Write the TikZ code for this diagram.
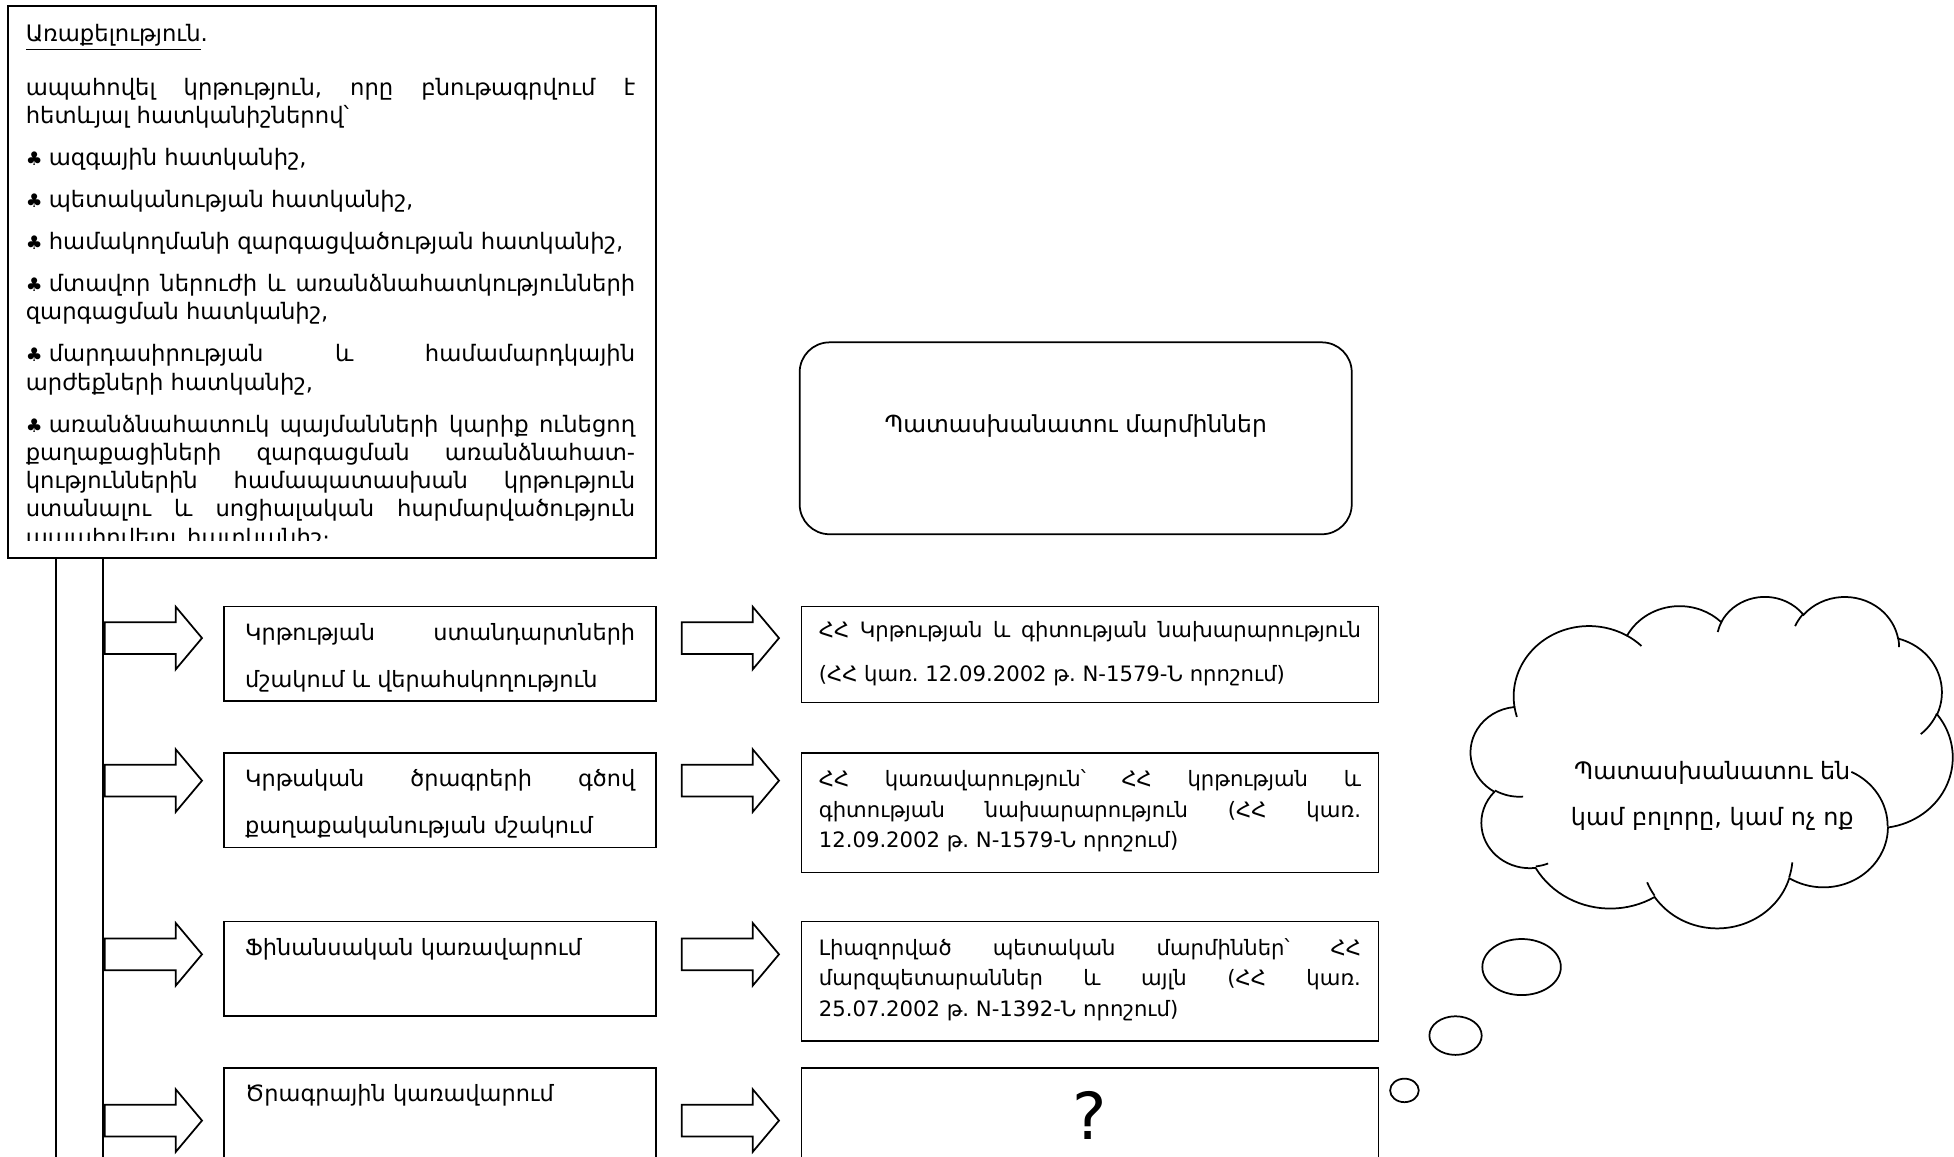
\documentclass[tikz,border=0pt]{standalone}
\usepackage{fontspec}
\setmainfont{DejaVu Sans}
\usepackage{tikz}
\usetikzlibrary{positioning, shapes.arrows, shapes.geometric}
\newcommand{\club}{{\fontsize{7.5}{7.5}\selectfont ♣}\hspace{2.5pt}}
\tikzset{
goal/.style={draw, anchor=north west, minimum width=260pt, minimum height=221.5pt, inner sep=0pt}, % the big text box at the top
task/.style={draw, anchor=north west, minimum width=173.5pt, inner xsep=8.5pt, inner ysep=3pt, text width=156.5pt, align=justify, text height=10.5pt, text depth=21.5pt, font=\fontsize{9}{19}\selectfont}, % boxes of the middle column
body/.style={draw, anchor=north west, inner xsep=7pt, inner ysep=3pt, text width=217.5pt, align=justify, font=\fontsize{8.5}{12.25}\selectfont}, % boxes of the right column
blockarrow/.style={single arrow, draw, anchor=tail, minimum height=39pt, inner xsep=0pt, inner ysep=6pt, single arrow head extend=6.25pt, single arrow tip angle=100}, % the fat white arrows
bubble/.style={ellipse, draw}, % small bubbles under the cloud
}

\begin{document}
\frenchspacing
\begin{tikzpicture}[x=0.5pt, y=-0.5pt, line width=0.7pt]
\useasboundingbox (0,0) rectangle (1568,928);

            \node[goal] (goal) at (6,4) {};
            \begin{scope}
            \clip (goal.north west) rectangle ([yshift=7.5pt]goal.south east);
            \node[anchor=north west, inner sep=0pt, text width=244.5pt, align=justify, font=\fontsize{9.1}{11.35}\selectfont] (goaltext) at (20,19) {\setlength{\parskip}{5.5pt}%
\underline{Առաքելություն}.\par\vspace{4.6pt}
ապահովել կրթություն, որը բնութագրվում է\linebreak հետևյալ հատկանիշներով՝\par
\club ազգային հատկանիշ,\par
\club պետականության հատկանիշ,\par
\club համակողմանի զարգացվածության հատկանիշ,\par
\club մտավոր ներուժի և առանձնահատկությունների\linebreak զարգացման հատկանիշ,\par
\club մարդասիրության և համամարդկային\linebreak արժեքների հատկանիշ,\par
\club առանձնահատուկ պայմանների կարիք ունեցող\linebreak քաղաքացիների զարգացման առանձնահատ-\linebreak կություններին համապատասխան կրթություն\linebreak ստանալու և սոցիալական հարմարվածություն\linebreak ապահովելու հատկանիշ։};
            \end{scope}
            \node[draw, anchor=north west, minimum width=19pt, minimum height=245pt, inner sep=0pt] (bar) at (44,447) {};

            \node[task] (st1) at (179,486) {Կրթության ստանդարտների\linebreak մշակում և վերահսկողություն};
            \node[task] (st2) at ([yshift=-20pt]st1.south west) {Կրթական ծրագրերի գծով\linebreak քաղաքականության մշակում};
            \node[task] (st3) at ([yshift=-29pt]st2.south west) {Ֆինանսական կառավարում};
            \node[task] (st4) at ([yshift=-20pt]st3.south west) {Ծրագրային կառավարում};

            \node[body, text height=9.5pt, text depth=23pt, font=\fontsize{8.5}{17.5}\selectfont] (rb1) at ([xshift=57.5pt]st1.north east) {ՀՀ Կրթության և գիտության նախարարություն\linebreak (ՀՀ կառ. 12.09.2002 թ. N-1579-Ն որոշում)};
            \node[body, text height=10.5pt, text depth=31.5pt] (rb2) at ([xshift=57.5pt]st2.north east) {ՀՀ կառավարություն՝ ՀՀ կրթության և\linebreak գիտության նախարարություն (ՀՀ կառ.\linebreak 12.09.2002 թ. N-1579-Ն որոշում)};
            \node[body, text height=10.5pt, text depth=31.5pt] (rb3) at ([xshift=57.5pt]st3.north east) {Լիազորված պետական մարմիններ՝ ՀՀ\linebreak մարզպետարաններ և այլն (ՀՀ կառ.\linebreak 25.07.2002 թ. N-1392-Ն որոշում)};
            \node[body, align=center, minimum height=38pt, font=\fontsize{26}{30}\selectfont] (rb4) at ([xshift=57.5pt]st4.north east) {?};

            \node[draw, rounded corners=12pt, anchor=north west, minimum width=221.5pt, minimum height=77pt, text height=8pt, text depth=13pt, font=\fontsize{9.4}{12}\selectfont] (resp) at (641,274) {Պատասխանատու մարմիններ};

            \node[blockarrow] (ar1) at ([xshift=9.5pt, yshift=-13pt]st1.north east) {};
            \node[blockarrow] (ar2) at ([xshift=9.5pt, yshift=-11.5pt]st2.north east) {};
            \node[blockarrow] (ar3) at ([xshift=9.5pt, yshift=-13.5pt]st3.north east) {};
            \node[blockarrow] (ar4) at ([xshift=9.5pt, yshift=-21.5pt]st4.north east) {};
            \node[blockarrow] (la1) at (bar.east |- ar1) {};
            \node[blockarrow] (la2) at (bar.east |- ar2) {};
            \node[blockarrow] (la3) at (bar.east |- ar3) {};
            \node[blockarrow] (la4) at (bar.east |- ar4) {};

            % thought cloud, its outline and the short inner strokes
            \begin{scope}[shift={(590.15pt,-239.05pt)}, x=0.44735pt, y=-0.30775pt]
            \draw (39.00,143.70)
                arc[x radius=67.53, y radius=91.90, start angle=172.26, end angle=300.37]
                arc[x radius=53.33, y radius=72.67, start angle=-152.03, end angle=-45.45]
                arc[x radius=43.65, y radius=59.45, start angle=-153.50, end angle=-37.33]
                arc[x radius=48.57, y radius=65.95, start angle=-139.70, end angle=-10.21]
                arc[x radius=53.33, y radius=72.73, start angle=-74.77, end angle=23.21]
                arc[x radius=67.75, y radius=92.20, start angle=-37.53, end angle=81.86]
                arc[x radius=57.85, y radius=78.67, start angle=0.46, end angle=121.97]
                arc[x radius=67.52, y radius=92.15, start angle=16.84, end angle=146.23]
                arc[x radius=77.20, y radius=105.43, start angle=58.98, end angle=150.19]
                arc[x radius=43.60, y radius=59.18, start angle=83.31, end angle=223.12]
                arc[x radius=43.45, y radius=59.45, start angle=120.36, end angle=264.11]
                -- cycle;
            \draw (46.93,261.77) arc[x radius=43.45, y radius=59.45, start angle=85.55, end angle=120.36]
                (69.28,348.99) arc[x radius=43.60, y radius=59.18, start angle=68.24, end angle=83.31]
                (164.78,390.90) arc[x radius=67.52, y radius=92.15, start angle=146.23, end angle=158.47]
                (288.27,347.51) arc[x radius=67.52, y radius=92.15, start angle=4.74, end angle=16.84]
                (341.29,229.54) arc[x radius=57.85, y radius=78.67, start angle=-64.03, end angle=0.46]
                (417.98,153.54) arc[x radius=53.33, y radius=72.73, start angle=23.21, end angle=49.65]
                (383.24,54.26) arc[x radius=48.57, y radius=65.95, start angle=-10.21, end angle=0.82]
                (290.78,39.52) arc[x radius=48.57, y radius=65.95, start angle=-156.29, end angle=-139.70]
                (221.41,47.20) arc[x radius=43.65, y radius=59.45, start angle=-167.73, end angle=-153.50]
                (140.00,51.92) arc[x radius=67.53, y radius=91.90, start angle=-59.63, end angle=-45.74]
                (41.27,157.89) arc[x radius=67.53, y radius=91.90, start angle=163.19, end angle=172.26];
            \end{scope}
            \node[align=center, font=\fontsize{9.6}{18.5}\selectfont] (thoughttext) at (1374,638.5) {Պատասխանատու են\\կամ բոլորը, կամ ոչ ոք};
            \node[bubble, minimum width=31.5pt, minimum height=22.5pt] (b1) at (1221,776) {};
            \node[bubble, minimum width=21pt, minimum height=15.5pt] (b2) at (1168,831) {};
            \node[bubble, minimum width=11.5pt, minimum height=8pt] (b3) at (1127,875) {};
        \end{tikzpicture}
\end{document}
